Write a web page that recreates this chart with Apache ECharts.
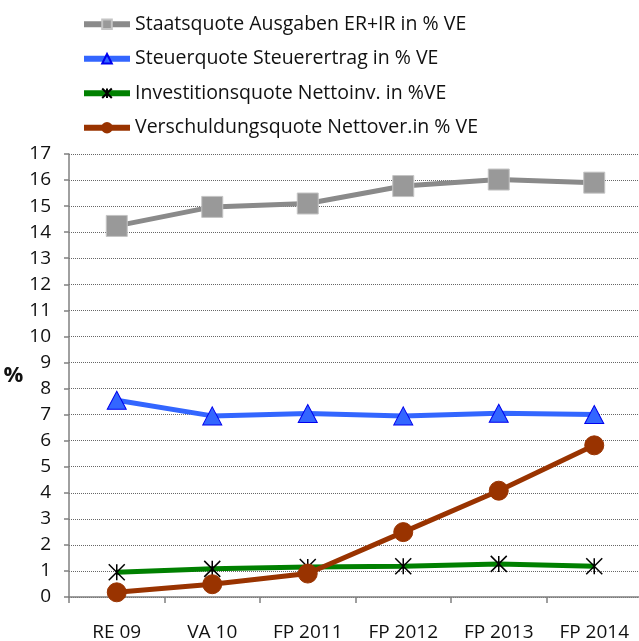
<!DOCTYPE html>
<html>
<head>
<meta charset="utf-8">
<script src="https://cdn.jsdelivr.net/npm/echarts@6/dist/echarts.min.js"></script>
<style>
  html, body { margin: 0; padding: 0; background: #fff; }
  #chart { width: 639px; height: 641px; }
</style>
</head>
<body>
<div id="chart"></div>
<script>
var categories = ["RE 09", "VA 10", "FP 2011", "FP 2012", "FP 2013", "FP 2014"];
var staatsquote = [14.24, 14.97, 15.1, 15.77, 16.02, 15.9];
var steuerquote = [7.55, 6.95, 7.04, 6.95, 7.05, 7.0];
var investitionsquote = [0.95, 1.08, 1.15, 1.18, 1.27, 1.18];
var verschuldungsquote = [0.18, 0.49, 0.9, 2.49, 4.08, 5.82];

var FONT = "Open Sans";
var chart = echarts.init(document.getElementById("chart"));

function legendItem(name, color) {
    return {name: name, lineStyle: {color: color, width: 6}};
}

var option = {
    animation: false,
    textStyle: {fontFamily: FONT},
    legend: {
        orient: "vertical",
        left: 76, top: 9,
        itemWidth: 46, itemHeight: 12, itemGap: 14,
        textStyle: {fontFamily: FONT, fontSize: 19.5, lineHeight: 20.5, color: "#111"},
        data: [
            legendItem("Staatsquote Ausgaben ER+IR in % VE", "#8a8a8a"),
            legendItem("Steuerquote Steuerertrag in % VE", "#3366ff"),
            legendItem("Investitionsquote Nettoinv. in %VE", "#008000"),
            legendItem("Verschuldungsquote Nettover.in % VE", "#993300")
        ]
    },
    grid: {left: 69, right: -3, top: 154, bottom: 44, outerBoundsMode: "none"},
    xAxis: {
        type: "category",
        data: categories,
        boundaryGap: true,
        axisLine: {lineStyle: {color: "#808080", width: 1.5}},
        axisTick: {show: true, length: 6, inside: false, lineStyle: {color: "#808080", width: 1.5}},
        axisLabel: {fontFamily: FONT, fontSize: 19, color: "#111", margin: 26}
    },
    yAxis: {
        type: "value",
        min: 0, max: 17, interval: 1,
        name: "%",
        nameLocation: "middle",
        nameRotate: 0,
        nameGap: 40,
        nameTextStyle: {fontFamily: FONT, fontSize: 22, fontWeight: "bold", color: "#111", padding: [4, 0, 0, 0]},
        axisLine: {show: true, lineStyle: {color: "#808080", width: 1.5}},
        axisTick: {show: true, length: 5, lineStyle: {color: "#808080", width: 1.5}},
        axisLabel: {fontFamily: FONT, fontSize: 19, color: "#111", margin: 18},
        splitLine: {lineStyle: {color: "#666666", type: "dotted", width: 1}}
    },
    series: [
        {
            name: "Staatsquote Ausgaben ER+IR in % VE",
            type: "line",
            data: staatsquote,
            symbol: "rect", symbolSize: 21,
            lineStyle: {color: "#8a8a8a", width: 5},
            itemStyle: {color: "#999999", borderColor: "#c4c4c4", borderWidth: 1}
        },
        {
            name: "Steuerquote Steuerertrag in % VE",
            type: "line",
            data: steuerquote,
            symbol: "triangle", symbolSize: [19, 18],
            lineStyle: {color: "#3366ff", width: 5},
            itemStyle: {color: "#3366ff", borderColor: "#0000ee", borderWidth: 1}
        },
        {
            name: "Investitionsquote Nettoinv. in %VE",
            type: "line",
            data: investitionsquote,
            symbol: "path://M0,0L10,10M10,0L0,10M5,0L5,10", symbolSize: 16,
            lineStyle: {color: "#008000", width: 5},
            itemStyle: {color: "#000", borderColor: "#000", borderWidth: 1.5}
        },
        {
            name: "Verschuldungsquote Nettover.in % VE",
            type: "line",
            data: verschuldungsquote,
            symbol: "circle", symbolSize: 19,
            lineStyle: {color: "#993300", width: 5},
            itemStyle: {color: "#993300", borderColor: "#993300", borderWidth: 1}
        }
    ]
};

chart.setOption(option);
</script>
</body>
</html>
